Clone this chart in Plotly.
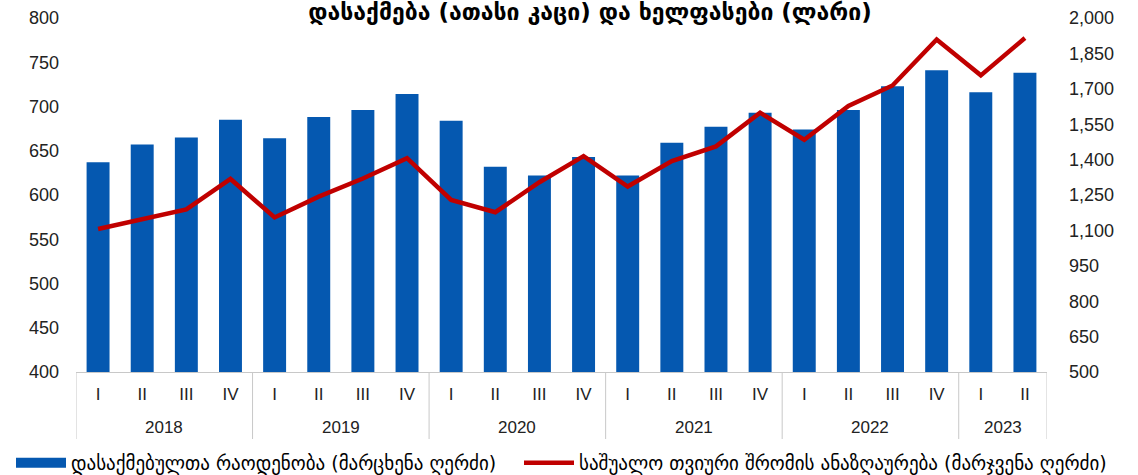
import plotly.graph_objects as go

years = ["2018"] * 4 + ["2019"] * 4 + ["2020"] * 4 + ["2021"] * 4 + ["2022"] * 4 + ["2023"] * 2
quarters = ["I", "II", "III", "IV"] * 5 + ["I", "II"]

employed = [637, 657, 665, 685, 664, 688, 696, 714,
            684, 632, 622, 643, 622, 659, 677, 693,
            674, 696, 723, 741, 716, 738]

wages = [1106, 1148, 1189, 1318, 1155, 1243, 1320, 1406,
         1229, 1177, 1304, 1415, 1286, 1394, 1456, 1599,
         1484, 1627, 1714, 1909, 1757, 1915]

title_text = "დასაქმება (ათასი კაცი) და ხელფასები (ლარი)"
name_bars = "დასაქმებულთა რაოდენობა (მარცხენა ღერძი)"
name_line = "საშუალო თვიური შრომის ანაზღაურება (მარჯვენა ღერძი)"

num_font = "Liberation Sans, Arial, sans-serif"
geo_font = "DejaVu Sans, sans-serif"
BLUE = "#0558B0"
RED = "#C00000"
GRID = "#C8C8C8"

cats = [f"{y} {q}" for y, q in zip(years, quarters)]

fig = go.Figure()
fig.add_trace(go.Bar(
    x=cats, y=employed, name=name_bars, showlegend=False,
    marker=dict(color=BLUE, line=dict(width=0)), yaxis="y",
))
# legend proxy for bars (wide rectangle symbol)
fig.add_trace(go.Scatter(
    x=[None], y=[None], name=name_bars, mode="lines",
    line=dict(color=BLUE, width=11), showlegend=True, legend="legend",
))
fig.add_trace(go.Scatter(
    x=cats, y=wages, name=name_line, mode="lines",
    line=dict(color=RED, width=4.5), yaxis="y2", legend="legend2",
))

# year group labels and dividers on the category axis
groups = []
for i, y in enumerate(years):
    if not groups or groups[-1][0] != y:
        groups.append([y, i, i])
    else:
        groups[-1][2] = i

div_bottom = -(439 - 372) / 354
for y, i0, i1 in groups:
    fig.add_annotation(x=(i0 + i1) / 2, y=-(427 - 372) / 354, xref="x", yref="paper",
                       text=y, showarrow=False, yanchor="middle",
                       font=dict(family=num_font, size=17, color="#222"))
    fig.add_shape(type="line", xref="x", yref="paper", x0=i0 - 0.5, x1=i0 - 0.5,
                  y0=0, y1=div_bottom, line=dict(color=GRID, width=1))
fig.add_shape(type="line", xref="x", yref="paper", x0=len(cats) - 0.5, x1=len(cats) - 0.5,
              y0=0, y1=div_bottom, line=dict(color=GRID, width=1))

leg_common = dict(
    orientation="h", xref="container", yref="container", xanchor="left",
    y=(475 - 463) / 475, yanchor="middle",
    font=dict(family=geo_font, size=19, color="black"),
    itemwidth=50, bgcolor="rgba(0,0,0,0)",
)

fig.update_layout(
    width=1138, height=475,
    margin=dict(l=76, r=91, t=18, b=103, autoexpand=False),
    paper_bgcolor="white", plot_bgcolor="white",
    bargap=0.48,
    title=dict(text="<b>" + title_text + "</b>", x=590 / 1138, xref="container", xanchor="center",
               y=1 - 12 / 475, yref="container", yanchor="middle",
               font=dict(family=geo_font, size=23, color="black")),
    xaxis=dict(
        type="category", range=[-0.5, len(cats) - 0.5],
        tickmode="array", tickvals=cats, ticktext=quarters,
        showline=True, linecolor=GRID, linewidth=1,
        showgrid=False, ticks="", ticklabelstandoff=7, automargin=False,
        tickfont=dict(family=num_font, size=17, color="#222"),
    ),
    yaxis=dict(
        range=[400, 800], dtick=50, tick0=400, showgrid=False, zeroline=False,
        showline=False, ticks="", ticklabelstandoff=16, automargin=False,
        tickfont=dict(family=num_font, size=18, color="#222"),
    ),
    yaxis2=dict(
        range=[500, 2000], dtick=150, tick0=500, overlaying="y", side="right",
        showgrid=False, zeroline=False, showline=False, ticks="", tickformat=",d",
        ticklabelstandoff=21, automargin=False,
        tickfont=dict(family=num_font, size=18, color="#222"),
    ),
    legend=dict(x=11 / 1138, **leg_common),
    legend2=dict(x=519 / 1138, **leg_common),
)

fig.write_html("out.html", config={"displayModeBar": False},
               post_script="document.body.style.margin='0';")
